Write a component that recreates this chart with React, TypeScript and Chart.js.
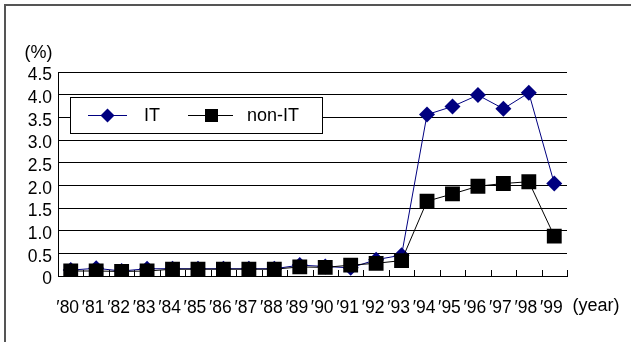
import React, { useEffect, useRef } from 'react';
import { Chart, registerables } from 'chart.js';

Chart.register(...registerables);

const YEARS = ['′80', '′81', '′82', '′83', '′84', '′85', '′86', '′87', '′88', '′89', '′90', '′91', '′92', '′93', '′94', '′95', '′96', '′97', '′98', '′99'];
const IT_VALUES = [0.13, 0.17, 0.11, 0.16, 0.16, 0.16, 0.16, 0.16, 0.16, 0.24, 0.21, 0.18, 0.36, 0.46, 3.56, 3.74, 3.99, 3.69, 4.04, 2.04];
const NON_IT_VALUES = [0.11, 0.11, 0.1, 0.11, 0.15, 0.15, 0.15, 0.15, 0.15, 0.2, 0.19, 0.24, 0.28, 0.34, 1.65, 1.81, 1.98, 2.04, 2.08, 0.88];
const SERIES_NAMES = ['IT', 'non-IT'];
const Y_MIN = 0;
const Y_MAX = 4.5;
const Y_STEP = 0.5;
const Y_UNIT = '(%)';
const X_UNIT = '(year)';

const FONT = "'Liberation Sans', Arial, sans-serif";
const NAVY = '#000080';

const overlay = {
  id: 'overlay',
  beforeDatasetsDraw(chart: any) {
    const { ctx, chartArea, scales } = chart;
    const x = scales.x;
    ctx.save();
    ctx.strokeStyle = '#000';
    ctx.lineWidth = 1;
    ctx.beginPath();
    for (let i = 1; i <= YEARS.length; i++) {
      const px = Math.round(x.getPixelForValue(i - 0.5)) + 0.5;
      ctx.moveTo(px, chartArea.bottom);
      ctx.lineTo(px, chartArea.bottom - 6);
    }
    ctx.stroke();
    ctx.restore();
  },
  afterDraw(chart: any) {
    const { ctx, chartArea } = chart;
    ctx.save();
    // outer frame (top & left visible)
    ctx.strokeStyle = '#555';
    ctx.lineWidth = 2;
    ctx.strokeRect(5, 5, 800, 500);

    // axis unit texts
    ctx.fillStyle = '#000';
    ctx.font = `18px ${FONT}`;
    ctx.textBaseline = 'middle';
    ctx.textAlign = 'right';
    ctx.fillText(Y_UNIT, chartArea.left - 5.5, chartArea.top - 18.5);
    ctx.textAlign = 'left';
    ctx.fillText(X_UNIT, chartArea.right + 5.5, chartArea.bottom + 30);

    // legend box
    const lx = 70.5, ly = 97.5, lw = 252, lh = 36;
    ctx.fillStyle = '#fff';
    ctx.fillRect(lx, ly, lw, lh);
    ctx.strokeStyle = '#000';
    ctx.lineWidth = 1;
    ctx.strokeRect(lx, ly, lw, lh);
    const cy = ly + lh / 2;

    // IT item
    ctx.strokeStyle = NAVY;
    ctx.beginPath();
    ctx.moveTo(88, cy);
    ctx.lineTo(127, cy);
    ctx.stroke();
    ctx.fillStyle = NAVY;
    ctx.beginPath();
    ctx.moveTo(107.5 - 7, cy);
    ctx.lineTo(107.5, cy - 7);
    ctx.lineTo(107.5 + 7, cy);
    ctx.lineTo(107.5, cy + 7);
    ctx.closePath();
    ctx.fill();
    ctx.fillStyle = '#000';
    ctx.font = `18px ${FONT}`;
    ctx.textAlign = 'left';
    ctx.textBaseline = 'middle';
    ctx.fillText(SERIES_NAMES[0], 144, cy + 1);

    // non-IT item
    ctx.strokeStyle = '#000';
    ctx.beginPath();
    ctx.moveTo(188, cy);
    ctx.lineTo(233, cy);
    ctx.stroke();
    ctx.fillStyle = '#000';
    ctx.fillRect(205, cy - 6.5, 13, 13);
    ctx.fillText(SERIES_NAMES[1], 247, cy + 1);
    ctx.restore();
  },
};

export default function App() {
  const ref = useRef<HTMLCanvasElement | null>(null);

  useEffect(() => {
    document.body.style.margin = '0';
    const canvas = ref.current!;
    const chart = new Chart(canvas, {
      type: 'line',
      data: {
        labels: YEARS,
        datasets: [
          {
            label: SERIES_NAMES[0],
            data: IT_VALUES,
            borderColor: NAVY,
            backgroundColor: NAVY,
            borderWidth: 1,
            pointStyle: 'rectRot',
            pointRadius: 8,
            pointBorderWidth: 0,
            pointBackgroundColor: NAVY,
            tension: 0,
            order: 2,
          },
          {
            label: SERIES_NAMES[1],
            data: NON_IT_VALUES,
            borderColor: '#000',
            backgroundColor: '#000',
            borderWidth: 1,
            pointStyle: 'rect',
            pointRadius: 10.5,
            pointBorderWidth: 0,
            pointBackgroundColor: '#000',
            tension: 0,
            order: 1,
          },
        ],
      },
      options: {
        animation: false,
        responsive: false,
        devicePixelRatio: 1,
        layout: { padding: { left: 0, top: 72, right: 64, bottom: 0 } },
        plugins: {
          legend: { display: false },
          tooltip: { enabled: false },
        },
        scales: {
          x: {
            type: 'category',
            offset: true,
            grid: { display: false, offset: true },
            border: { display: true, color: '#000', width: 1 },
            ticks: {
              color: '#000',
              font: { family: FONT, size: 17.5 },
              padding: 14,
              labelOffset: -3,
              maxRotation: 0,
              autoSkip: false,
            },
            afterFit(scale: any) {
              scale.height = 66;
            },
          },
          y: {
            min: Y_MIN,
            max: Y_MAX,
            grid: { color: '#000', lineWidth: 1, drawTicks: false },
            border: { display: true, color: '#000', width: 1 },
            ticks: {
              stepSize: Y_STEP,
              autoSkip: false,
              color: '#000',
              font: { family: FONT, size: 17.5 },
              padding: 6,
              labelOffset: 3.5,
              callback: (v: any) => (Number(v) === 0 ? '0' : Number(v).toFixed(1)),
            },
            afterFit(scale: any) {
              scale.width = 58;
            },
          },
        },
      },
      plugins: [overlay],
    });
    return () => chart.destroy();
  }, []);

  return (
    <div style={{ position: 'fixed', left: 0, top: 0, width: 631, height: 342, background: '#fff', overflow: 'hidden' }}>
      <canvas ref={ref} width={631} height={342} style={{ display: 'block', width: 631, height: 342 }} />
    </div>
  );
}
